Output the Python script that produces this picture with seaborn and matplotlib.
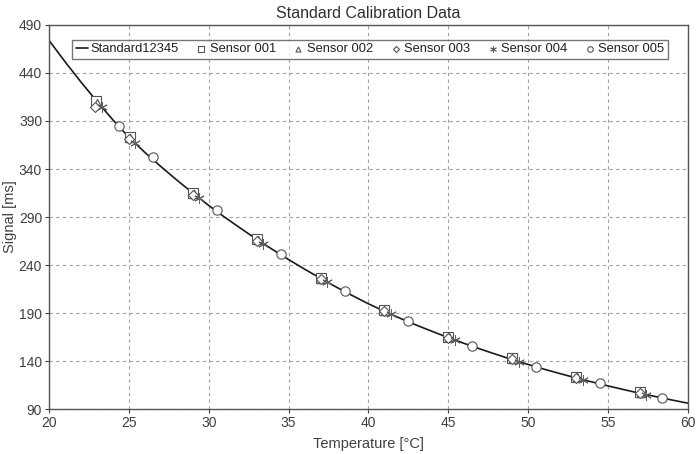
import numpy as np
import pandas as pd
import matplotlib
matplotlib.use("Agg")
import matplotlib.pyplot as plt
import seaborn as sns

# standard curve
std_temp = list(range(20, 61))
std_signal = [474.0, 451.8, 430.6, 410.4, 391.2, 373.0, 357.3, 342.6, 328.5, 315.0,
              302.0, 289.8, 278.2, 266.8, 256.1, 245.7, 235.7, 226.2, 216.9, 208.1,
              199.6, 191.8, 184.4, 177.4, 170.8, 164.4, 158.3, 152.5, 146.9, 141.5,
              136.4, 131.5, 126.9, 122.4, 118.2, 114.1, 110.2, 106.4, 102.9, 99.4,
              96.1]

s001_temp = [22.95, 25.05, 29.0, 33.05, 37.0, 41.0, 45.0, 49.0, 53.0, 57.0]
s001_signal = [411, 373, 315, 267, 226, 193, 165, 143, 123, 107.5]
s002_temp = [23.0, 25.1, 29.05, 33.1, 37.05, 41.05, 45.05, 49.05, 53.05, 57.05]
s002_signal = [409, 372, 314, 266, 225.5, 192.5, 165, 142.5, 123, 107]
s003_temp = [22.9, 25.0, 29.0, 33.0, 37.0, 41.0, 45.0, 49.0, 53.0, 57.0]
s003_signal = [405, 371, 313, 265.5, 225, 192, 164.5, 142, 122.5, 107]
s004_temp = [23.3, 25.4, 29.4, 33.4, 37.4, 41.4, 45.4, 49.4, 53.4, 57.4]
s004_signal = [404.5, 366.6, 309.8, 262.4, 222.5, 188.7, 162.0, 139.4, 120.7, 104.9]
s005_temp = [24.4, 26.5, 30.5, 34.5, 38.5, 42.5, 46.5, 50.5, 54.5, 58.4]
s005_signal = [385, 352, 297, 251, 213, 182, 156, 134, 117, 102]

x_ticks = [20, 25, 30, 35, 40, 45, 50, 55, 60]
y_ticks = [90, 140, 190, 240, 290, 340, 390, 440, 490]

sns.set_style("white")
plt.rcParams["font.family"] = ["Liberation Sans", "DejaVu Sans"]

fig = plt.figure(figsize=(6.97, 4.54), dpi=100)
ax = fig.add_axes([0.0703, 0.099, 0.9167, 0.846])

sns.lineplot(x=std_temp, y=std_signal, ax=ax, color="#1a1a1a", linewidth=1.2,
             label="Standard12345", zorder=2)

sensors = [
    ("Sensor 001", s001_temp, s001_signal, "s", 42),
    ("Sensor 002", s002_temp, s002_signal, "^", 36),
    ("Sensor 003", s003_temp, s003_signal, "D", 26),
    ("Sensor 004", s004_temp, s004_signal, (6, 2, 0), 50),
    ("Sensor 005", s005_temp, s005_signal, "o", 45),
]
for name, t, s, m, size in sensors:
    if m == (6, 2, 0):
        sns.scatterplot(x=t, y=s, ax=ax, marker=m, s=size, color="#606060",
                        linewidth=0.7, label=name, zorder=3)
    else:
        sns.scatterplot(x=t, y=s, ax=ax, marker=m, s=size, facecolor="white",
                        edgecolor="#555555", linewidth=0.8, label=name, zorder=3)

ax.set_xlim(20, 60)
ax.set_ylim(90, 490)
ax.set_xticks(x_ticks)
ax.set_yticks(y_ticks)
ax.grid(True, linestyle=(0, (3, 3)), color="#a0a0a0", linewidth=0.8)
ax.tick_params(axis="both", labelsize=10, labelcolor="#404040", length=3,
               color="#404040", direction="out", left=True, bottom=True, pad=2)
for sp in ax.spines.values():
    sp.set_color("#555555")
    sp.set_linewidth(1.0)

ax.set_xlabel("Temperature [°C]", fontsize=10.5, color="#404040", labelpad=5)
ax.set_ylabel("Signal [ms]", fontsize=10.5, color="#404040", labelpad=1)
ax.set_title("Standard Calibration Data", fontsize=11.5, color="#303030", pad=5)

leg = ax.legend(loc="upper center", bbox_to_anchor=(0.503, 0.962), ncol=6,
                fontsize=9.3, frameon=True, fancybox=False, handlelength=0.9,
                handletextpad=0.2, columnspacing=1.3, borderpad=0.3,
                markerscale=0.6, borderaxespad=0)
leg.get_frame().set_edgecolor("#555555")
leg.get_frame().set_linewidth(1.0)
for txt in leg.get_texts():
    txt.set_color("#202020")

fig.savefig("out.png", dpi=100)
